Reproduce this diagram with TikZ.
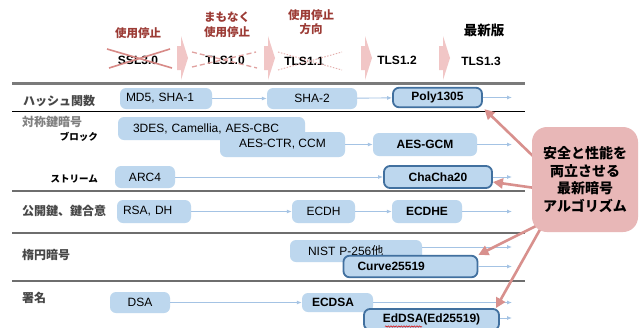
\documentclass[tikz,border=0pt]{standalone}
\usepackage{fontspec}
\setmainfont{Liberation Sans}
\newfontfamily\jp{Noto Sans CJK JP}
\usetikzlibrary{arrows.meta,decorations.pathmorphing}
\definecolor{boxblue}{HTML}{BDD7EE}
\definecolor{darkblue}{HTML}{41709F}
\definecolor{connblue}{HTML}{A4C3E4}
\definecolor{pinkbox}{HTML}{E8B7B7}
\definecolor{pinkarrow}{HTML}{D8908D}
\definecolor{chevpink}{HTML}{F1C6C6}
\definecolor{stopred}{HTML}{9C3B35}
\definecolor{crossred}{HTML}{D88A87}
\definecolor{rulegray}{HTML}{7A7A7A}
\tikzset{
  box/.style={rounded corners=6pt, fill=boxblue, inner sep=0pt, text=black,
    font=\fontsize{12}{14}\selectfont},
  bbox/.style={box, font=\fontsize{12}{14}\selectfont\bfseries},
  boldbox/.style={box, draw=darkblue, line width=1.8pt, font=\fontsize{12}{14}\selectfont\bfseries},
  conn/.style={draw=connblue, line width=0.9pt, -{Latex[length=5pt,width=4pt]}},
  callarrow/.style={draw=pinkarrow, line width=2.6pt, -{Triangle[length=10pt,width=10pt]}},
  rowlab/.style={font=\jp\bfseries\fontsize{12}{14}\selectfont, text=black!72, anchor=west, inner sep=0pt},
  sublab/.style={font=\jp\bfseries\fontsize{9.5}{11}\selectfont, text=black, anchor=east, inner sep=0pt},
  stoplab/.style={font=\jp\bfseries\fontsize{11.5}{14.5}\selectfont, text=stopred, align=center, inner sep=0pt},
  verlab/.style={font=\fontsize{12}{14}\selectfont\bfseries, text=black, inner sep=0pt},
}
\newcommand{\chevat}[1]{\fill[chevpink] (#1-4,46) -- (#1,46) -- (#1,36) -- (#1+7,58) -- (#1,80) -- (#1,70) -- (#1-4,70) -- cycle;}
\begin{document}
\begin{tikzpicture}[x=1pt,y=-1pt]
\useasboundingbox (0,0) rectangle (642,327);
\fill[white] (0,0) rectangle (642,327);

% rules
\draw[rulegray, line width=3pt] (12,83.5) -- (525,83.5);
\draw[black, line width=0.9pt] (12,111) -- (525,111);
\draw[rulegray!90!black, line width=1.6pt] (12,191) -- (525,191);
\draw[rulegray!90!black, line width=1.6pt] (12,233) -- (525,233);
\draw[rulegray!90!black, line width=1.6pt] (12,281) -- (525,281);

% chevrons
\chevat{181}
\chevat{268}
\chevat{365}
\chevat{443}

% header
\node[stoplab] (h1) at (138,33) {使用停止};
\node[stoplab] (h2) at (227,25) {まもなく\\使用停止};
\node[stoplab] (h3) at (311,22) {使用停止\\方向};
\node[font=\jp\bfseries\fontsize{13.5}{16}\selectfont, inner sep=0pt] (h5) at (484,30) {最新版};

\node[verlab] (ssl) at (138,60) {SSL3.0};
\node[verlab] (tls10) at (225,60) {TLS1.0};
\node[verlab] (tls11) at (304,61) {TLS1.1};
\node[verlab] (tls12) at (397,60) {TLS1.2};
\node[verlab] (tls13) at (481,61) {TLS1.3};

\draw[crossred, line width=1.6pt] (107,49) -- (172,68);
\draw[crossred, line width=1.6pt] (109,68) -- (170,49);
\draw[crossred!80, line width=1.3pt, dash pattern=on 5pt off 3pt] (192,52) -- (257,68);
\draw[crossred!80, line width=1.3pt, dash pattern=on 5pt off 3pt] (192,67) -- (256,52);
\draw[crossred!70, line width=0.9pt, dash pattern=on 1.5pt off 1.5pt] (278,52) -- (342,70);
\draw[crossred!70, line width=0.9pt, dash pattern=on 1.5pt off 1.5pt] (278,70) -- (342,52);

% row labels
\node[rowlab] (l1) at (23,101) {ハッシュ関数};
\node[rowlab, text=black!50] (l2) at (22,122) {対称鍵暗号};
\node[sublab] (l2a) at (98,137) {ブロック};
\node[sublab] (l2b) at (98,179) {ストリーム};
\node[rowlab] (l3) at (22,211) {公開鍵、鍵合意};
\node[rowlab] (l4) at (22,255) {楕円暗号};
\node[rowlab] (l5) at (22,298) {署名};

% hash row
\node[box, minimum height=21pt, text width=80pt, inner xsep=6pt, align=left] (md5) at (166,98.5) {MD5, SHA-1};
\node[box, minimum height=21pt, minimum width=90pt] (sha2) at (312,98.5) {SHA-2};
\node[boldbox, minimum height=19.5pt, minimum width=89pt] (poly) at (437.5,97.5) {Poly1305};
\coordinate (polyend) at (512,97.5);

% block
\node[box, minimum height=23pt, text width=157pt, inner xsep=15pt, align=left] (des) at (211.5,128.5) {3DES, Camellia, AES-CBC};
\node[box, minimum height=25pt, minimum width=125pt] (ctr) at (282.5,144.5) {AES-CTR, CCM};
\node[bbox, minimum height=23pt, minimum width=104pt] (gcm) at (425,144.5) {AES-GCM};
\coordinate (gcmend) at (512,144.5);

% stream
\node[box, minimum height=22pt, minimum width=60pt] (arc4) at (145,177) {ARC4};
\node[boldbox, minimum height=22pt, minimum width=108pt] (chacha) at (438,177) {ChaCha20};
\coordinate (chachaend) at (512,177);

% public key
\node[box, minimum height=23pt, text width=62pt, inner xsep=6pt, align=left] (rsa) at (154,211.5) {RSA, DH};
\node[box, minimum height=23pt, minimum width=63pt] (ecdh) at (323.5,211.5) {ECDH};
\node[bbox, minimum height=23pt, minimum width=70pt] (ecdhe) at (427,211.5) {ECDHE};
\coordinate (ecdheend) at (512,211.5);

% elliptic
\node[box, minimum height=22pt, text width=96pt, inner xsep=18pt, align=left] (nist) at (356,251) {NIST P-256{\jp 他}};
\coordinate (nistend) at (512,247);
\node[boldbox, minimum height=21.5pt, text width=106pt, inner xsep=14pt, align=left] (curve) at (410.5,266.5) {Curve25519};
\coordinate (curveend) at (512,266.5);

% signature
\node[box, minimum height=21pt, minimum width=60pt] (dsa) at (140,302.5) {DSA};
\node[bbox, minimum height=19pt, text width=51pt, inner xsep=10pt, align=left] (ecdsa) at (337.5,302.5) {ECDSA};
\coordinate (ecdsaend) at (512,302.5);
\node[boldbox, minimum height=21pt, minimum width=135pt] (eddsa) at (431.5,319.5) {EdDSA(Ed25519)};
\coordinate (eddsaend) at (512,318);
\draw[red!85!black, line width=0.5pt, decorate, decoration={snake, amplitude=0.7pt, segment length=2.6pt}] (385,326.5) -- (422,326.5);

% row connectors
\draw[conn] (md5) -- (sha2);
\draw[conn] (sha2) -- (poly);
\draw[conn] (poly) -- (polyend);
\draw[conn] (ctr) -- (gcm);
\draw[conn] (gcm) -- (gcmend);
\draw[conn] (arc4) -- (chacha);
\draw[conn] (chacha) -- (chachaend);
\draw[conn] (rsa) -- (ecdh);
\draw[conn] (ecdh) -- (ecdhe);
\draw[conn] (ecdhe) -- (ecdheend);
\draw[conn] (nist.east |- nistend) -- (nistend);
\draw[conn] (curve) -- (curveend);
\draw[conn] (dsa) -- (ecdsa);
\draw[conn] (ecdsa) -- (ecdsaend);
\draw[conn] (eddsa.east |- eddsaend) -- (eddsaend);

% callout
\coordinate (cc) at (585,179.5);
\draw[callarrow] ([shift={(-50,-21.5)}]cc) -- ([shift={(1.5,1)}]poly.south east);
\draw[callarrow] ([shift={(-50,8.5)}]cc) -- ([yshift=-5pt]chacha.east);
\draw[callarrow] ([shift={(-45,44.5)}]cc) -- (curve.north east);
\draw[callarrow] ([shift={(-43,46.5)}]cc) -- ([xshift=-4pt]eddsa.north east);
\node[fill=pinkbox, rounded corners=15pt, minimum width=106pt, minimum height=105pt,
  align=center, font=\jp\bfseries\fontsize{14}{17.5}\selectfont, inner sep=0pt] (callout) at (cc)
  {安全と性能を\\両立させる\\最新暗号\\アルゴリズム};
\end{tikzpicture}
\end{document}
